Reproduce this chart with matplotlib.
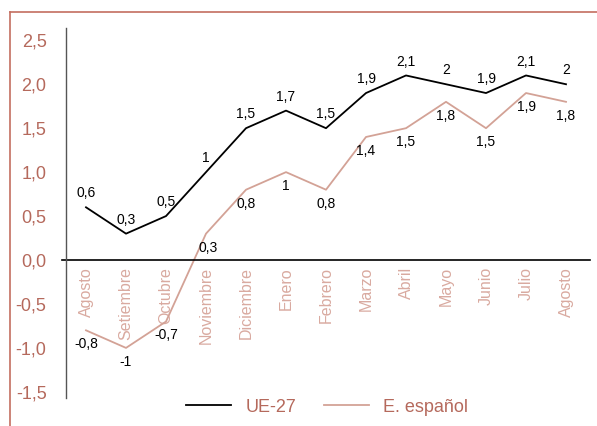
import matplotlib
matplotlib.use("Agg")
import matplotlib.pyplot as plt
from matplotlib import font_manager

meses = ["Agosto", "Setiembre", "Octubre", "Noviembre", "Diciembre", "Enero", "Febrero",
         "Marzo", "Abril", "Mayo", "Junio", "Julio", "Agosto"]
ue27 = [0.6, 0.3, 0.5, 1, 1.5, 1.7, 1.5, 1.9, 2.1, 2, 1.9, 2.1, 2]
espanol = [-0.8, -1, -0.7, 0.3, 0.8, 1, 0.8, 1.4, 1.5, 1.8, 1.5, 1.9, 1.8]
yticks = [-1.5, -1.0, -0.5, 0.0, 0.5, 1.0, 1.5, 2.0, 2.5]

nombres = {f.name for f in font_manager.fontManager.ttflist}
fuente = "Liberation Sans Narrow" if "Liberation Sans Narrow" in nombres else "Liberation Sans"
plt.rcParams["font.family"] = [fuente, "DejaVu Sans"]

c_marco = "#c46e60"
c_ytick = "#b5695c"
c_xtick = "#d9aaa0"
c_esp = "#d3a296"

def fmt(v):
    return ("%g" % v).replace(".", ",")

fig = plt.figure(figsize=(5.97, 4.26), dpi=100)
ax = fig.add_axes([66 / 597, 1 - 398 / 426, 524 / 597, 370 / 426])

x = [i + 0.5 for i in range(len(meses))]
ax.plot(x, ue27, color="black", lw=1.3, label="UE-27")
ax.plot(x, espanol, color=c_esp, lw=1.3, label="E. español")

for xi, v in zip(x, ue27):
    ax.annotate(fmt(v), (xi, v), xytext=(0, 5), textcoords="offset points",
                ha="center", va="bottom", fontsize=10)
for xi, v in zip(x, espanol):
    dx = 1.5 if v == 0.3 else 0
    ax.annotate(fmt(v), (xi, v), xytext=(dx, -5), textcoords="offset points",
                ha="center", va="top", fontsize=10)

ax.set_xlim(0, 13.1)
ax.set_ylim(-1.57, 2.64)
# linea del cero, un poco a la izquierda del eje
ax.axhline(0, color="black", lw=1.2, xmin=-0.008, clip_on=False)

ax.set_yticks(yticks)
ax.set_yticklabels([("%.1f" % t).replace(".", ",") for t in yticks], color=c_ytick, fontsize=13)
ax.tick_params(axis="y", length=0, pad=14)

# etiquetas de los meses justo debajo del cero
ax.spines["bottom"].set_position(("data", 0))
ax.spines["bottom"].set_visible(False)
ax.set_xticks(x)
ax.set_xticklabels(meses, rotation=90, color=c_xtick, fontsize=11.5, va="top")
ax.tick_params(axis="x", length=0, pad=5)

for s in ["top", "right"]:
    ax.spines[s].set_visible(False)
ax.spines["left"].set_color("#555555")
ax.spines["left"].set_linewidth(1.0)

leg = fig.legend(loc="center", bbox_to_anchor=(0.548, 1 - 407 / 426), ncol=2, frameon=False,
                 fontsize=13, handlelength=2.5, columnspacing=1.5, handletextpad=0.8)
for t in leg.get_texts():
    t.set_color(c_ytick)

# marco exterior
fig.add_artist(plt.Line2D([10 / 597, 1], [1 - 12 / 426, 1 - 12 / 426], color=c_marco, lw=1.2))
fig.add_artist(plt.Line2D([10 / 597, 10 / 597], [0, 1 - 12 / 426], color=c_marco, lw=1.2))

fig.savefig("out.png", dpi=100)
